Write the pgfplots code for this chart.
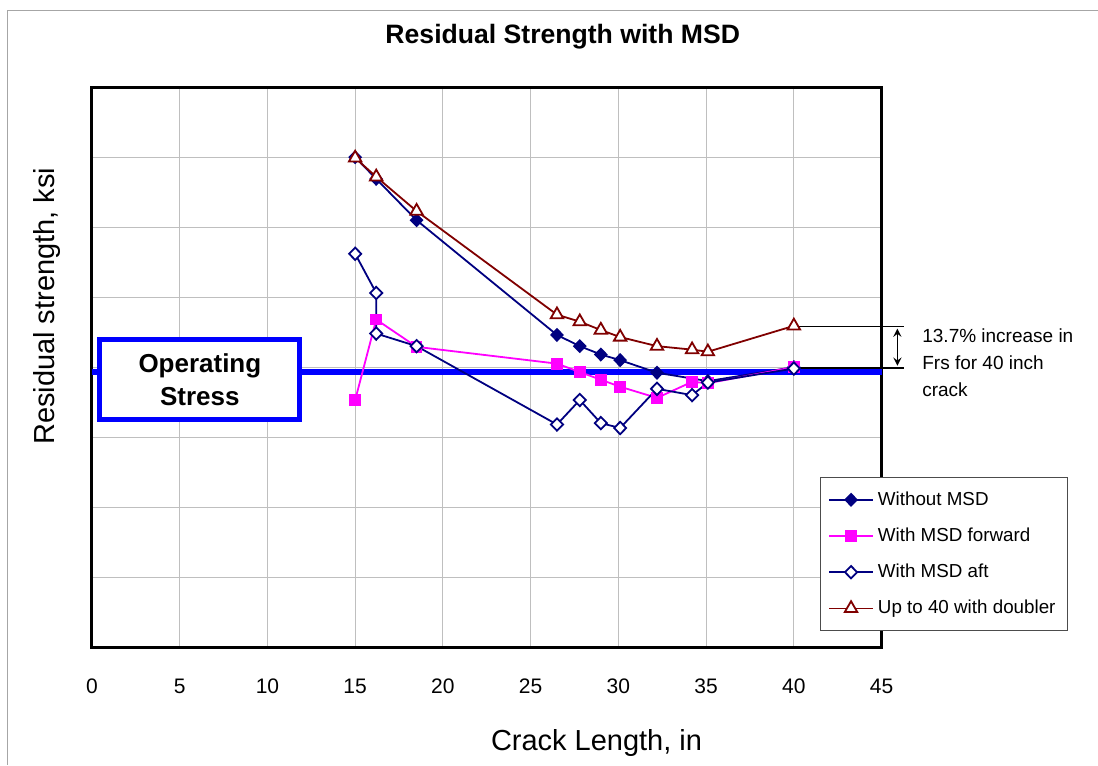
\documentclass[border=0pt]{standalone}
\usepackage{pgfplots}
\pgfplotsset{compat=1.18}
\usepackage{fontspec}
\setmainfont{Liberation Sans}
\definecolor{navy}{RGB}{0,0,128}
\definecolor{darkred}{RGB}{128,0,0}
\definecolor{opblue}{RGB}{0,0,255}
\definecolor{msdpink}{RGB}{255,0,255}
\begin{document}
\begin{tikzpicture}
% picture frame (1px = 0.5pt, plot origin at pixel 92,648)
\path (-46pt,-58.5pt) rectangle (503pt,324pt);
\draw[gray!70, line width=0.5pt] (-42pt,-58.5pt) -- (-42pt,318.5pt) -- (503pt,318.5pt);
\begin{axis}[
    scale only axis,
    width=395pt, height=280pt,
    xmin=0, xmax=45,
    ymin=0, ymax=80,
    xtick={0,5,...,45},
    ytick={10,20,...,70},
    yticklabels={},
    grid=major,
    grid style={gray!50, line width=0.5pt},
    major tick length=0pt,
    axis line style={line width=1.5pt},
    /pgf/number format/assume math mode=true,
    xticklabel style={font=\fontsize{10.5}{12}\selectfont, yshift=-12pt},
    xlabel={Crack Length, in},
    ylabel={Residual strength, ksi},
    xlabel style={at={(rel axis cs:0.639,-0.17)}, anchor=center, font=\fontsize{14.5}{16}\selectfont},
    ylabel style={at={(rel axis cs:-0.057,0.61)}, anchor=center, font=\fontsize{14.5}{16}\selectfont},
    clip=false,
    legend style={at={(axis cs:41.47,24.4)}, anchor=north west,
        draw=black!70, line width=0.5pt, fill=white,
        font=\fontsize{9.4}{11}\selectfont, row sep=5.8pt,
        inner xsep=4pt, inner ysep=5pt},
    legend cell align=left,
    legend image code/.code={\draw[mark repeat=2,mark phase=2] plot coordinates {(0pt,0pt)(11pt,0pt)(22pt,0pt)};},
]
% operating stress level
\addplot[opblue, line width=3pt, forget plot] coordinates {(0,39.47)(45,39.47)};

% Without MSD
\addplot[navy, line width=0.9pt, mark=diamond*, mark size=2.9pt, mark options={fill=navy, xscale=1.3}]
    coordinates {
    (15,70.1)(16.2,67)(18.5,61.1)(26.5,44.7)(27.8,43.1)(29,41.9)(30.1,41.1)(32.2,39.3)(35.1,38.1)(40,40.1)
    };
% With MSD forward
\addplot[msdpink, line width=0.9pt, mark=square*, mark size=2.5pt, mark options={fill=msdpink}]
    coordinates {
    (15,35.4)(16.2,46.9)(18.5,43)(26.5,40.6)(27.8,39.4)(29,38.3)(30.1,37.3)(32.2,35.7)(34.2,38)(35.1,37.8)(40,40.1)
    };
% With MSD aft
\addplot[navy, line width=0.9pt, mark=diamond*, mark size=3.1pt, mark options={fill=white, xscale=1.3}]
    coordinates {
    (15,56.3)(16.2,50.7)(16.2,44.9)(18.5,43.1)(26.5,31.9)(27.8,35.4)(29,32.1)(30.1,31.4)(32.2,37)(34.2,36.1)(35.1,37.9)(40,39.9)
    };
% Up to 40 with doubler
\addplot[darkred, line width=0.9pt, mark=triangle*, mark size=3.6pt, mark options={fill=white}]
    coordinates {
    (15,70)(16.2,67.3)(18.5,62.4)(26.5,47.6)(27.8,46.6)(29,45.4)(30.1,44.4)(32.2,43.1)(34.2,42.6)(35.1,42.3)(40,46)
    };
\legend{Without MSD, With MSD forward, With MSD aft, Up to 40 with doubler}

% operating stress box
\draw[opblue, line width=2.5pt, fill=white] (axis cs:0.456,44) rectangle (axis cs:11.85,32.57);
\node[font=\fontsize{13}{16.5}\selectfont\bfseries, align=center] at (axis cs:6.15,38.3) {Operating\\Stress};

% increase annotation
\draw[black, line width=0.8pt] (axis cs:40,45.9) -- (axis cs:46.3,45.9);
\draw[black, line width=0.8pt] (axis cs:40,40.0) -- (axis cs:46.3,40.0);
\draw[black, line width=0.8pt, <->, >=stealth] (axis cs:45.9,45.6) -- (axis cs:45.9,40.3);
\node[anchor=base west, font=\fontsize{9.5}{11}\selectfont, inner sep=0pt] at (axis cs:47.3,43.57) {13.7\% increase in};
\node[anchor=base west, font=\fontsize{9.5}{11}\selectfont, inner sep=0pt] at (axis cs:47.3,39.71) {Frs for 40 inch};
\node[anchor=base west, font=\fontsize{9.5}{11}\selectfont, inner sep=0pt] at (axis cs:47.3,35.86) {crack};

% title
\node[font=\fontsize{13.3}{15}\selectfont\bfseries] at (axis cs:26.83,87.4) {Residual Strength with MSD};
\end{axis}
\end{tikzpicture}
\end{document}
